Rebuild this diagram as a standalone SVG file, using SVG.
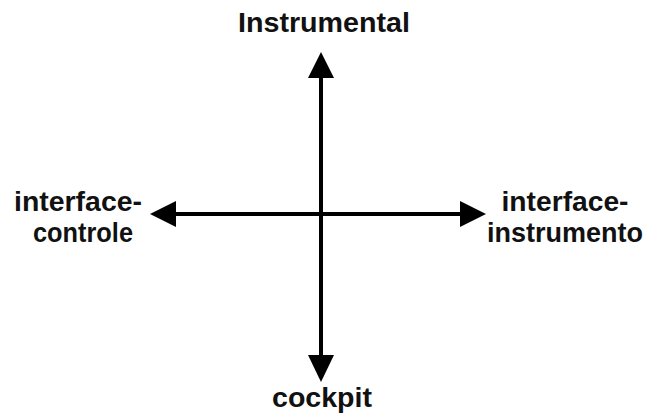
<svg xmlns="http://www.w3.org/2000/svg" width="648" height="420" viewBox="0 0 648 420">
<style>
text{font-family:"Liberation Sans",Arial,sans-serif;font-weight:bold;font-size:27px;fill:#111;text-anchor:middle}
.ax{stroke:#000;stroke-width:4;fill:none}
.hd{fill:#000}
</style>
<rect width="648" height="420" fill="#fff"/>
<g id="connectors">
<line class="ax" x1="321" y1="74" x2="321" y2="358"/>
<line class="ax" x1="174" y1="214" x2="462" y2="214"/>
<polygon class="hd" points="321,52 308,78 334,78"/>
<polygon class="hd" points="321,382 308,355 334,355"/>
<polygon class="hd" points="150,214 176,201 176,227"/>
<polygon class="hd" points="486,214 460,201 460,227"/>
</g>
<g id="top"><text x="324" y="32" textLength="172" lengthAdjust="spacingAndGlyphs">Instrumental</text></g>
<g id="left"><text x="78" y="211" textLength="128" lengthAdjust="spacingAndGlyphs">interface-</text><text x="83" y="242" textLength="100" lengthAdjust="spacingAndGlyphs">controle</text></g>
<g id="right"><text x="565" y="211" textLength="127" lengthAdjust="spacingAndGlyphs">interface-</text><text x="565" y="242" textLength="156" lengthAdjust="spacingAndGlyphs">instrumento</text></g>
<g id="bottom"><text x="322" y="407" textLength="100" lengthAdjust="spacingAndGlyphs">cockpit</text></g>
</svg>
